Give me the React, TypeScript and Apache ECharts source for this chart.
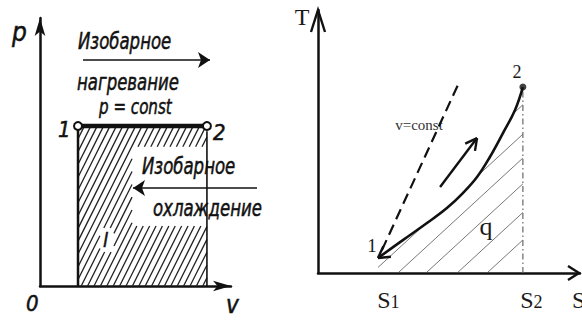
import { useEffect, useRef } from "react";
import * as echarts from "echarts";

type Pt = [number, number];

// ---- p–v diagram: isobaric process 1→2 ----
const V1 = 1.99;
const V2 = 8.74;
const P_CONST = 5.97;
const heatArrowV: Pt = [2.25, 8.9];
const heatArrowP = 8.43;
const coolArrowV: Pt = [11.36, 4.87];
const coolArrowP = 3.66;
// white patches kept clear of hatching (behind captions): [vMin, vMax, pMin, pMax]
const clearBoxes: number[][] = [
  [4.82, 9.0, 2.24, 5.19],
  [3.14, 3.87, 1.27, 2.16],
];

// ---- T–s diagram: isochoric heating 1→2 ----
const curveS = [2.29, 3.24, 4.16, 4.92, 5.53, 6.07, 6.56, 7.06, 7.52, 7.82];
const curveT = [0.57, 1.25, 1.9, 2.47, 3.04, 3.65, 4.41, 5.32, 6.2, 7.07];
const S1 = 2.29;
const S2 = 7.82;
const isochoreS = [2.44, 5.34];
const isochoreT = [0.87, 7.15];
const processArrowFrom: Pt = [4.66, 3.27];
const processArrowTo: Pt = [6.07, 5.13];
const s2MarkTop = 6.9;
// s-axis intercepts of the hatch strokes under the curve
const hatchStartsTS = [0.84, 2.06, 3.05, 4.12, 5.31, 6.45];

const LEFT_GRID = { left: 40, top: 18, width: 191, height: 268 };
const RIGHT_GRID = { left: 318, top: 10, width: 262, height: 263 };
const AX_MAX = 10;

const pxL: Pt = [LEFT_GRID.width / AX_MAX, LEFT_GRID.height / AX_MAX];
const pxR: Pt = [RIGHT_GRID.width / AX_MAX, RIGHT_GRID.height / AX_MAX];

function runs(start: Pt, dir: Pt, tMax: number, inside: (x: number, y: number) => boolean, step = 0.005) {
  const segs: [Pt, Pt][] = [];
  let a: Pt | null = null;
  let b: Pt | null = null;
  for (let t = 0; t <= tMax + 1e-9; t += step) {
    const p: Pt = [start[0] + dir[0] * t, start[1] + dir[1] * t];
    if (inside(p[0], p[1])) {
      if (!a) a = p;
      b = p;
    } else if (a && b) {
      segs.push([a, b]);
      a = null;
      b = null;
    }
  }
  if (a && b) segs.push([a, b]);
  return segs;
}

function curveAt(s: number) {
  if (s < curveS[0] || s > curveS[curveS.length - 1]) return -Infinity;
  for (let i = 1; i < curveS.length; i++) {
    if (s <= curveS[i]) {
      const f = (s - curveS[i - 1]) / (curveS[i] - curveS[i - 1]);
      return curveT[i - 1] + f * (curveT[i] - curveT[i - 1]);
    }
  }
  return curveT[curveT.length - 1];
}

// open chevron head at `tip`, pointing away from `from`
function chevron(tip: Pt, from: Pt, len: number, angDeg: number, px: Pt): [Pt, Pt][] {
  let dx = (from[0] - tip[0]) * px[0];
  let dy = (from[1] - tip[1]) * px[1];
  const n = Math.hypot(dx, dy);
  dx /= n;
  dy /= n;
  const out: [Pt, Pt][] = [];
  for (const sgn of [1, -1]) {
    const a = (sgn * angDeg * Math.PI) / 180;
    const rx = dx * Math.cos(a) - dy * Math.sin(a);
    const ry = dx * Math.sin(a) + dy * Math.cos(a);
    out.push([tip, [tip[0] + (rx * len) / px[0], tip[1] + (ry * len) / px[1]]]);
  }
  return out;
}

function buildOption() {
  // hatch inside rectangle under p = const
  const kL = (2 * pxL[0]) / pxL[1];
  const hatchL: [Pt, Pt][] = [];
  const stepV = 6.4 / pxL[0];
  for (let v0 = V1 - P_CONST / kL; v0 < V2; v0 += stepV) {
    const segs = runs([v0, 0], [1 / kL, 1], P_CONST, (v, p) => {
      if (v < V1 || v > V2 || p < 0 || p > P_CONST - 0.05) return false;
      for (const b of clearBoxes) if (v >= b[0] && v <= b[1] && p >= b[2] && p <= b[3]) return false;
      return true;
    });
    hatchL.push(...segs);
  }

  // hatch under T–s curve (area q)
  const kR = (0.92 * pxR[0]) / pxR[1];
  const hatchR: [Pt, Pt][] = [];
  for (const s0 of hatchStartsTS) {
    hatchR.push(
      ...runs([s0, 0], [1, kR], S2 - s0 + 0.01, (s, T) => s >= S1 && s <= S2 && T >= 0 && T <= curveAt(s))
    );
  }

  const chevR = [
    ...chevron(processArrowTo, processArrowFrom, 13, 28, pxR),
    ...chevron([curveS[0], curveT[0]], [curveS[1], curveT[1]], 13, 30, pxR),
  ];

  const toLines = (segs: [Pt, Pt][]) => segs.map((c) => ({ coords: c }));

  const axisBase = {
    type: "value" as const,
    min: 0,
    max: AX_MAX,
    axisTick: { show: false },
    axisLabel: { show: false },
    splitLine: { show: false },
  };

  const sans = '"DejaVu Sans Condensed", "DejaVu Sans", sans-serif';
  const serif = '"Liberation Serif", "DejaVu Serif", serif';
  const it = (text: string, x: number, y: number, size: number, sx = 0.8) => ({
    type: "text",
    x,
    y,
    scaleX: sx,
    style: {
      text,
      fontFamily: sans,
      fontStyle: "italic",
      fontSize: size,
      fill: "#111",
      stroke: "#111",
      lineWidth: 0.5,
      align: "left",
      verticalAlign: "middle",
    },
  });
  const rm = (text: string, x: number, y: number, size: number, align = "center", fill = "#1a1a1a") => ({
    type: "text",
    x,
    y,
    style: { text, fontFamily: serif, fontSize: size, fill, align, verticalAlign: "middle" },
  });

  // open arrow heads at the ends of the T–s axes
  const rx0 = RIGHT_GRID.left;
  const ry0 = RIGHT_GRID.top + RIGHT_GRID.height;
  const rxEnd = RIGHT_GRID.left + RIGHT_GRID.width;
  const ryEnd = RIGHT_GRID.top;
  const axisHead = (pts: number[][]) => ({
    type: "polyline",
    shape: { points: pts },
    style: { stroke: "#111", lineWidth: 2.4, fill: "none" },
    z: 10,
  });

  return {
    animation: false,
    backgroundColor: "#ffffff",
    grid: [
      { ...LEFT_GRID, containLabel: false },
      { ...RIGHT_GRID, containLabel: false },
    ],
    xAxis: [
      {
        ...axisBase,
        gridIndex: 0,
        axisLine: { show: true, symbol: ["none", "arrow"], symbolSize: [8, 18], lineStyle: { color: "#111", width: 2.5 } },
      },
      { ...axisBase, gridIndex: 1, axisLine: { show: true, lineStyle: { color: "#111", width: 2.5 } } },
    ],
    yAxis: [
      {
        ...axisBase,
        gridIndex: 0,
        axisLine: { show: true, symbol: ["none", "arrow"], symbolSize: [8, 18], lineStyle: { color: "#111", width: 2.5 } },
      },
      { ...axisBase, gridIndex: 1, axisLine: { show: true, lineStyle: { color: "#111", width: 2.5 } } },
    ],
    series: [
      // ---- p–v ----
      {
        type: "lines",
        coordinateSystem: "cartesian2d",
        xAxisIndex: 0,
        yAxisIndex: 0,
        clip: false,
        lineStyle: { color: "#222", width: 1.3, opacity: 1 },
        data: toLines(hatchL),
      },
      {
        type: "line",
        xAxisIndex: 0,
        yAxisIndex: 0,
        showSymbol: false,
        lineStyle: { color: "#111", width: 2.5 },
        data: [
          [V1, 0],
          [V1, P_CONST],
        ],
      },
      {
        type: "line",
        xAxisIndex: 0,
        yAxisIndex: 0,
        showSymbol: false,
        lineStyle: { color: "#111", width: 1.6 },
        data: [
          [V2, 0],
          [V2, P_CONST - 0.2],
        ],
      },
      {
        type: "line",
        xAxisIndex: 0,
        yAxisIndex: 0,
        symbol: "circle",
        symbolSize: 8,
        showSymbol: true,
        itemStyle: { color: "#fff", borderColor: "#111", borderWidth: 2 },
        lineStyle: { color: "#111", width: 4.5 },
        data: [
          [V1, P_CONST],
          [V2, P_CONST],
        ],
        z: 5,
      },
      {
        type: "lines",
        coordinateSystem: "cartesian2d",
        xAxisIndex: 0,
        yAxisIndex: 0,
        clip: false,
        symbol: ["none", "arrow"],
        symbolSize: [7, 12],
        lineStyle: { color: "#111", width: 1.6, opacity: 1 },
        data: [
          { coords: [[heatArrowV[0], heatArrowP], [heatArrowV[1], heatArrowP]] },
          { coords: [[coolArrowV[0], coolArrowP], [coolArrowV[1], coolArrowP]] },
        ],
      },
      // ---- T–s ----
      {
        type: "lines",
        coordinateSystem: "cartesian2d",
        xAxisIndex: 1,
        yAxisIndex: 1,
        clip: false,
        lineStyle: { color: "#555", width: 0.8, opacity: 1 },
        data: toLines(hatchR),
      },
      {
        type: "line",
        xAxisIndex: 1,
        yAxisIndex: 1,
        showSymbol: false,
        lineStyle: { color: "#666", width: 1.2, type: [6, 3, 1.5, 3] },
        data: [
          [S2, s2MarkTop],
          [S2, 0],
        ],
      },
      {
        type: "line",
        xAxisIndex: 1,
        yAxisIndex: 1,
        showSymbol: false,
        lineStyle: { color: "#111", width: 2.2, type: [11, 6] },
        data: isochoreS.map((s, i) => [s, isochoreT[i]]),
      },
      {
        type: "line",
        xAxisIndex: 1,
        yAxisIndex: 1,
        showSymbol: false,
        smooth: 0.4,
        lineStyle: { color: "#111", width: 2.6 },
        data: curveS.map((s, i) => [s, curveT[i]]),
      },
      {
        type: "scatter",
        xAxisIndex: 1,
        yAxisIndex: 1,
        symbolSize: 7,
        itemStyle: { color: "#111" },
        data: [[curveS[curveS.length - 1], curveT[curveT.length - 1]]],
        z: 6,
      },
      {
        type: "lines",
        coordinateSystem: "cartesian2d",
        xAxisIndex: 1,
        yAxisIndex: 1,
        clip: false,
        lineStyle: { color: "#111", width: 2.4, opacity: 1 },
        data: [{ coords: [processArrowFrom, processArrowTo] }, ...toLines(chevR)],
      },
    ],
    graphic: [
      axisHead([
        [rx0 - 7, ryEnd + 22],
        [rx0, ryEnd],
        [rx0 + 7, ryEnd + 22],
      ]),
      axisHead([
        [rxEnd - 12, ry0 - 7],
        [rxEnd - 1, ry0],
        [rxEnd - 12, ry0 + 7],
      ]),
      // p–v captions
      it("p", 12, 32, 26, 1),
      it("Изобарное", 78, 41, 23),
      it("нагревание", 77, 82, 23),
      it("p = const", 99, 106, 21),
      it("1", 58, 129, 22, 1),
      it("2", 213, 132, 22, 1),
      it("Изобарное", 142, 166, 23),
      it("охлаждение", 153, 208, 23),
      it("l", 103, 240, 20, 1),
      it("0", 26, 303, 22, 1),
      it("v", 226, 305, 24, 1),
      // T–s captions
      rm("T", 302, 17, 24),
      rm("2", 517, 72, 18),
      rm("v=const", 419, 125, 15, "center", "#333"),
      rm("1", 372, 245, 19),
      rm("q", 486, 226, 26),
      rm("S", 384, 300, 24),
      rm("1", 395, 302, 18),
      rm("S", 527, 300, 24),
      rm("2", 538, 302, 18),
      rm("S", 572, 300, 24, "left"),
    ],
  };
}

export default function App() {
  const ref = useRef<HTMLDivElement>(null);
  useEffect(() => {
    if (!ref.current) return;
    const chart = echarts.init(ref.current, undefined, { renderer: "svg" });
    chart.setOption(buildOption() as any);
    return () => chart.dispose();
  }, []);
  return <div ref={ref} style={{ position: "fixed", left: 0, top: 0, width: 582, height: 323, background: "#fff" }} />;
}
